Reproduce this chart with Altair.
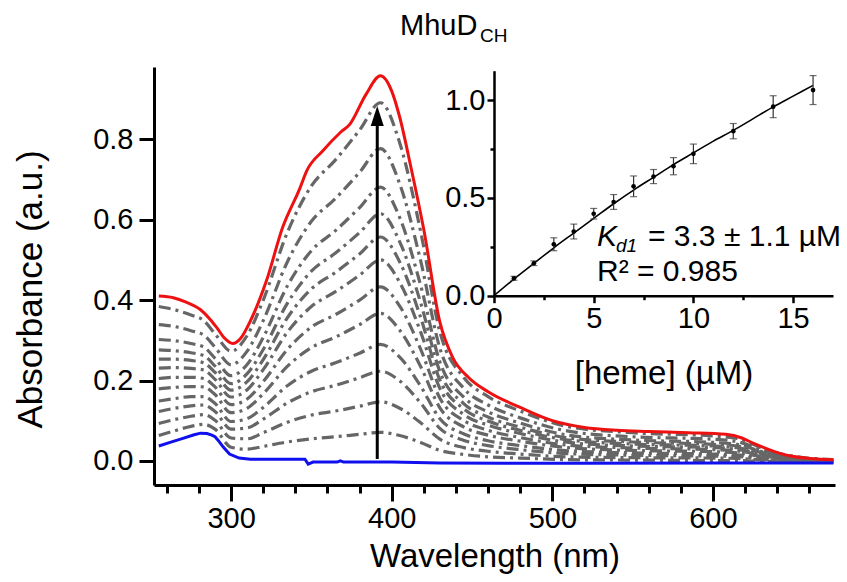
import altair as alt
import pandas as pd

# ---------------- data ----------------
# shared wavelength grid (nm) for the intermediate titration spectra
wl_grid = [255, 265, 275, 283, 290, 300, 310, 320, 335, 350, 365, 380, 393,
           405, 418, 430, 445, 460, 480, 510, 550, 600, 615, 635, 655, 675]

# intermediate spectra (grey dash-dot), keyed by heme concentration (uM)
gray_1 = [0.063, 0.075, 0.086, 0.091, 0.079, 0.034, 0.029, 0.036, 0.047, 0.055, 0.060, 0.066, 0.071, 0.063, 0.046, 0.026, 0.016, 0.010, 0.007, 0.003, 0.002, 0.001, 0.001, -0.002, -0.003, -0.004]
gray_2 = [0.093, 0.103, 0.111, 0.115, 0.101, 0.057, 0.055, 0.070, 0.096, 0.114, 0.124, 0.136, 0.147, 0.131, 0.095, 0.054, 0.033, 0.024, 0.017, 0.010, 0.008, 0.007, 0.006, 0.001, -0.002, -0.003]
gray_3 = [0.123, 0.131, 0.137, 0.139, 0.123, 0.079, 0.082, 0.104, 0.144, 0.172, 0.188, 0.207, 0.223, 0.199, 0.144, 0.081, 0.051, 0.038, 0.028, 0.018, 0.014, 0.012, 0.011, 0.003, -0.001, -0.002]
gray_4 = [0.149, 0.155, 0.160, 0.160, 0.143, 0.098, 0.105, 0.133, 0.187, 0.223, 0.244, 0.268, 0.290, 0.258, 0.186, 0.105, 0.067, 0.050, 0.038, 0.025, 0.020, 0.017, 0.015, 0.005, 0.000, -0.002]
gray_5 = [0.179, 0.183, 0.185, 0.184, 0.165, 0.120, 0.131, 0.167, 0.235, 0.282, 0.308, 0.339, 0.367, 0.325, 0.235, 0.132, 0.084, 0.064, 0.049, 0.033, 0.026, 0.023, 0.020, 0.008, 0.001, -0.001]
gray_6 = [0.205, 0.208, 0.208, 0.205, 0.184, 0.140, 0.154, 0.197, 0.277, 0.333, 0.364, 0.400, 0.433, 0.385, 0.278, 0.156, 0.100, 0.076, 0.058, 0.039, 0.032, 0.028, 0.025, 0.010, 0.002, -0.001]
gray_7 = [0.231, 0.232, 0.230, 0.226, 0.203, 0.159, 0.177, 0.227, 0.320, 0.384, 0.421, 0.462, 0.500, 0.444, 0.321, 0.180, 0.115, 0.089, 0.068, 0.046, 0.037, 0.033, 0.029, 0.012, 0.003, 0.000]
gray_8 = [0.253, 0.253, 0.250, 0.244, 0.220, 0.176, 0.197, 0.252, 0.356, 0.428, 0.469, 0.515, 0.557, 0.495, 0.357, 0.201, 0.129, 0.099, 0.076, 0.052, 0.042, 0.037, 0.033, 0.014, 0.004, 0.000]
gray_9 = [0.276, 0.274, 0.269, 0.262, 0.236, 0.192, 0.217, 0.277, 0.392, 0.472, 0.517, 0.568, 0.615, 0.545, 0.394, 0.222, 0.142, 0.109, 0.084, 0.057, 0.047, 0.041, 0.037, 0.016, 0.005, 0.001]
gray_10 = [0.302, 0.299, 0.292, 0.283, 0.255, 0.212, 0.240, 0.307, 0.435, 0.523, 0.573, 0.630, 0.681, 0.605, 0.437, 0.246, 0.158, 0.122, 0.094, 0.064, 0.052, 0.046, 0.041, 0.018, 0.006, 0.001]
gray_12 = [0.339, 0.334, 0.324, 0.313, 0.283, 0.239, 0.273, 0.349, 0.495, 0.596, 0.653, 0.718, 0.777, 0.689, 0.498, 0.280, 0.180, 0.139, 0.107, 0.074, 0.060, 0.054, 0.048, 0.021, 0.007, 0.002]
gray_14 = [0.384, 0.376, 0.363, 0.349, 0.316, 0.273, 0.312, 0.400, 0.568, 0.684, 0.749, 0.823, 0.891, 0.791, 0.571, 0.321, 0.207, 0.160, 0.124, 0.085, 0.070, 0.062, 0.056, 0.025, 0.009, 0.003]
gray_sets = {1: gray_1, 2: gray_2, 3: gray_3, 4: gray_4, 5: gray_5, 6: gray_6,
             7: gray_7, 8: gray_8, 9: gray_9, 10: gray_10, 12: gray_12, 14: gray_14}

# final spectrum (red, 16 uM heme)
red_wl = [255, 264, 272, 281, 287, 291, 296, 301, 306, 312, 322, 332, 343, 347,
          357, 368, 374, 384, 393, 400, 405, 412, 420, 430, 438, 448, 460, 480,
          500, 520, 540, 560, 585, 608, 618, 625, 635, 646, 660, 675]
red_abs = [0.41, 0.406, 0.395, 0.376, 0.352, 0.332, 0.305, 0.292, 0.305, 0.348,
           0.448, 0.58, 0.68, 0.721, 0.771, 0.817, 0.838, 0.912, 0.958, 0.92,
           0.855, 0.73, 0.575, 0.345, 0.257, 0.207, 0.172, 0.133, 0.10, 0.083,
           0.076, 0.073, 0.07, 0.066, 0.057, 0.044, 0.028, 0.014, 0.006, 0.003]

# apo protein (blue, 0 uM heme)
blue_wl = [255, 262, 270, 277, 281, 285, 288, 290, 292, 295, 299, 305, 312, 330,
           346, 348, 351, 366, 368, 370, 400, 430, 470, 520, 600, 675]
blue_abs = [0.037, 0.046, 0.056, 0.065, 0.069, 0.068, 0.064, 0.060, 0.051, 0.035,
            0.017, 0.007, 0.004, 0.004, 0.004, -0.008, -0.003, -0.003, 0.0,
            -0.003, -0.003, -0.005, -0.006, -0.006, -0.005, -0.005]

# arrow (nm, absorbance)
arrow_wl = 391
arrow_from = 0.005
arrow_to = 0.858

# inset: binding isotherm
heme_conc = [1, 2, 3, 4, 5, 6, 7, 8, 9, 10, 12, 14, 16]
delta_abs = [0.089, 0.166, 0.263, 0.328, 0.419, 0.479, 0.559, 0.609, 0.662,
             0.725, 0.841, 0.966, 1.051]
delta_err = [0.010, 0.012, 0.033, 0.038, 0.027, 0.038, 0.053, 0.036, 0.044,
             0.050, 0.039, 0.056, 0.074]
fit_conc = [0, 1, 2, 3, 4, 5, 6, 7, 8, 9, 10, 11, 12, 13, 14, 15, 16]
fit_abs = [0.0, 0.085, 0.165, 0.245, 0.32, 0.395, 0.47, 0.54, 0.605, 0.67,
           0.73, 0.79, 0.845, 0.905, 0.965, 1.02, 1.075]

main_x_ticks = [260, 280, 300, 320, 340, 360, 380, 400, 420, 440, 460, 480,
                500, 520, 540, 560, 580, 600, 620, 640, 660]
main_y_ticks = [0.0, 0.2, 0.4, 0.6, 0.8]
inset_x_ticks = [0, 2.5, 5, 7.5, 10, 12.5, 15]
inset_y_ticks = [0, 0.25, 0.5, 0.75, 1.0]

# ---------------- tables ----------------
gray_rows = []
for conc, vals in gray_sets.items():
    for w, a in zip(wl_grid, vals):
        gray_rows.append({"conc": conc, "wl": w, "abs": a})
gray_df = pd.DataFrame(gray_rows)
red_df = pd.DataFrame({"wl": red_wl, "abs": red_abs})
blue_df = pd.DataFrame({"wl": blue_wl, "abs": blue_abs})
arrow_df = pd.DataFrame({"wl": [arrow_wl], "y0": [arrow_from], "y1": [arrow_to]})
pts_df = pd.DataFrame({"c": heme_conc, "d": delta_abs, "e": delta_err})
fit_df = pd.DataFrame({"c": fit_conc, "d": fit_abs})

FONT = "Liberation Sans"
W, H = 681, 418

# ---------------- main spectra panel ----------------
xs = alt.Scale(domain=[252, 676], nice=False, zero=False)
ys = alt.Scale(domain=[-0.06, 0.98], nice=False, zero=False)

x_axis = alt.Axis(
    title="Wavelength (nm)", values=main_x_ticks,
    labelExpr="datum.value % 100 === 0 ? datum.label : ''",
    tickSize={"condition": {"test": "datum.value % 100 === 0", "value": 16}, "value": 8},
    labelPadding=3, titlePadding=7, titleFontSize=33, labelFlush=False, labelOverlap=False,
)
y_axis = alt.Axis(
    title="Absorbance (a.u.)", values=main_y_ticks, format=".1f",
    tickSize=15, labelPadding=6, titlePadding=44, titleFontSize=35, titleY=222,
    labelOverlap=False,
)

X = alt.X("wl:Q", scale=xs, axis=x_axis)
Y = alt.Y("abs:Q", scale=ys, axis=y_axis)

gray = alt.Chart(gray_df).mark_line(
    color="#666666", strokeWidth=3.2, strokeDash=[12, 5, 3, 5],
    interpolate="monotone", strokeCap="butt",
).encode(x=X, y=Y, detail="conc:N")

blue = alt.Chart(blue_df).mark_line(
    color="#1010ee", strokeWidth=3, interpolate="linear"
).encode(x=X, y=Y)

red = alt.Chart(red_df).mark_line(
    color="#ee1111", strokeWidth=3, interpolate="monotone"
).encode(x=X, y=Y)

arrow_line = alt.Chart(arrow_df).mark_rule(color="black", strokeWidth=3).encode(
    x=alt.X("wl:Q", scale=xs, axis=x_axis),
    y=alt.Y("y0:Q", scale=ys, axis=y_axis),
    y2="y1:Q",
)
arrow_head = alt.Chart(arrow_df).mark_point(
    shape="M0,-1L0.65,1L-0.65,1Z", size=400, filled=True, color="black", opacity=1
).encode(
    x=alt.X("wl:Q", scale=xs, axis=x_axis),
    y=alt.Y("y1:Q", scale=ys, axis=y_axis),
)

title_main = alt.Chart(pd.DataFrame({"t": ["MhuD"]})).mark_text(
    font=FONT, fontSize=29, align="left", baseline="alphabetic", color="black"
).encode(x=alt.value(246), y=alt.value(-32), text="t:N")
title_sub = alt.Chart(pd.DataFrame({"t": ["CH"]})).mark_text(
    font=FONT, fontSize=19, align="left", baseline="alphabetic", color="black"
).encode(x=alt.value(326), y=alt.value(-25), text="t:N")

main = alt.layer(gray, blue, red, arrow_line, arrow_head, title_main, title_sub)

# ---------------- inset panel ----------------
ixs = alt.Scale(domain=[0, 17], range=[340, 679], nice=False, zero=False)
iys = alt.Scale(domain=[0, 1.15], range=[228.7, 3.7], nice=False, zero=False)

ix_axis = alt.Axis(
    title="[heme] (\u00b5M)", orient="bottom", offset=-189.3, values=inset_x_ticks,
    labelExpr="datum.value % 5 === 0 ? datum.label : ''",
    tickSize={"condition": {"test": "datum.value % 5 === 0", "value": 7}, "value": 4},
    domainWidth=2.5, tickWidth=2.5, labelPadding=2, titlePadding=24, titleFontSize=33,
    labelFlush=False, labelOverlap=False,
)
iy_axis = alt.Axis(
    title=None, orient="left", offset=-340, values=inset_y_ticks,
    labelExpr="datum.value * 2 % 1 === 0 ? format(datum.value, '.1f') : ''",
    tickSize={"condition": {"test": "datum.value * 2 % 1 === 0", "value": 7}, "value": 4},
    domainWidth=2.5, tickWidth=2.5, labelPadding=2, labelOverlap=False,
)

IX = alt.X("c:Q", scale=ixs, axis=ix_axis)
IY = alt.Y("d:Q", scale=iys, axis=iy_axis)

fit = alt.Chart(fit_df).mark_line(color="black", strokeWidth=1.6, interpolate="monotone").encode(x=IX, y=IY)

err_base = alt.Chart(pts_df).transform_calculate(lo="datum.d - datum.e", hi="datum.d + datum.e")
err_bar = err_base.mark_rule(color="#333333", strokeWidth=1.2).encode(
    x=IX, y=alt.Y("lo:Q", scale=iys, axis=iy_axis), y2="hi:Q")
err_lo = err_base.mark_tick(color="#333333", orient="horizontal", size=7, thickness=1.2).encode(
    x=IX, y=alt.Y("lo:Q", scale=iys, axis=iy_axis))
err_hi = err_base.mark_tick(color="#333333", orient="horizontal", size=7, thickness=1.2).encode(
    x=IX, y=alt.Y("hi:Q", scale=iys, axis=iy_axis))
pts = alt.Chart(pts_df).mark_circle(color="black", size=22, opacity=1).encode(x=IX, y=IY)

ann_k = alt.Chart(pd.DataFrame({"t": ["K"]})).mark_text(
    font=FONT, fontSize=30, fontStyle="italic", align="left", baseline="alphabetic", color="black"
).encode(x=alt.value(443), y=alt.value(179), text="t:N")
ann_d = alt.Chart(pd.DataFrame({"t": ["d1"]})).mark_text(
    font=FONT, fontSize=19, fontStyle="italic", align="left", baseline="alphabetic", color="black"
).encode(x=alt.value(462), y=alt.value(185), text="t:N")
ann_val = alt.Chart(pd.DataFrame({"t": ["= 3.3 \u00b1 1.1 \u00b5M"]})).mark_text(
    font=FONT, fontSize=30, align="left", baseline="alphabetic", color="black"
).encode(x=alt.value(494), y=alt.value(179), text="t:N")
ann_r2 = alt.Chart(pd.DataFrame({"t": ["R\u00b2 = 0.985"]})).mark_text(
    font=FONT, fontSize=30, align="left", baseline="alphabetic", color="black"
).encode(x=alt.value(443), y=alt.value(214), text="t:N")

inset = alt.layer(fit, err_bar, err_lo, err_hi, pts, ann_k, ann_d, ann_val, ann_r2)

chart = alt.layer(main, inset).resolve_scale(
    x="independent", y="independent"
).properties(
    width=W, height=H,
    autosize=alt.AutoSizeParams(type="none"),
    padding={"left": 154, "top": 67, "right": 12, "bottom": 97},
    background="white",
).configure_view(stroke=None).configure_axis(
    grid=False, domainColor="black", domainWidth=3, tickColor="black", tickWidth=3,
    labelFont=FONT, labelFontSize=29, labelColor="black",
    titleFont=FONT, titleFontSize=32, titleFontWeight="normal", titleColor="black",
)

chart.save("out.html", embed_options={"renderer": "svg", "actions": False})
